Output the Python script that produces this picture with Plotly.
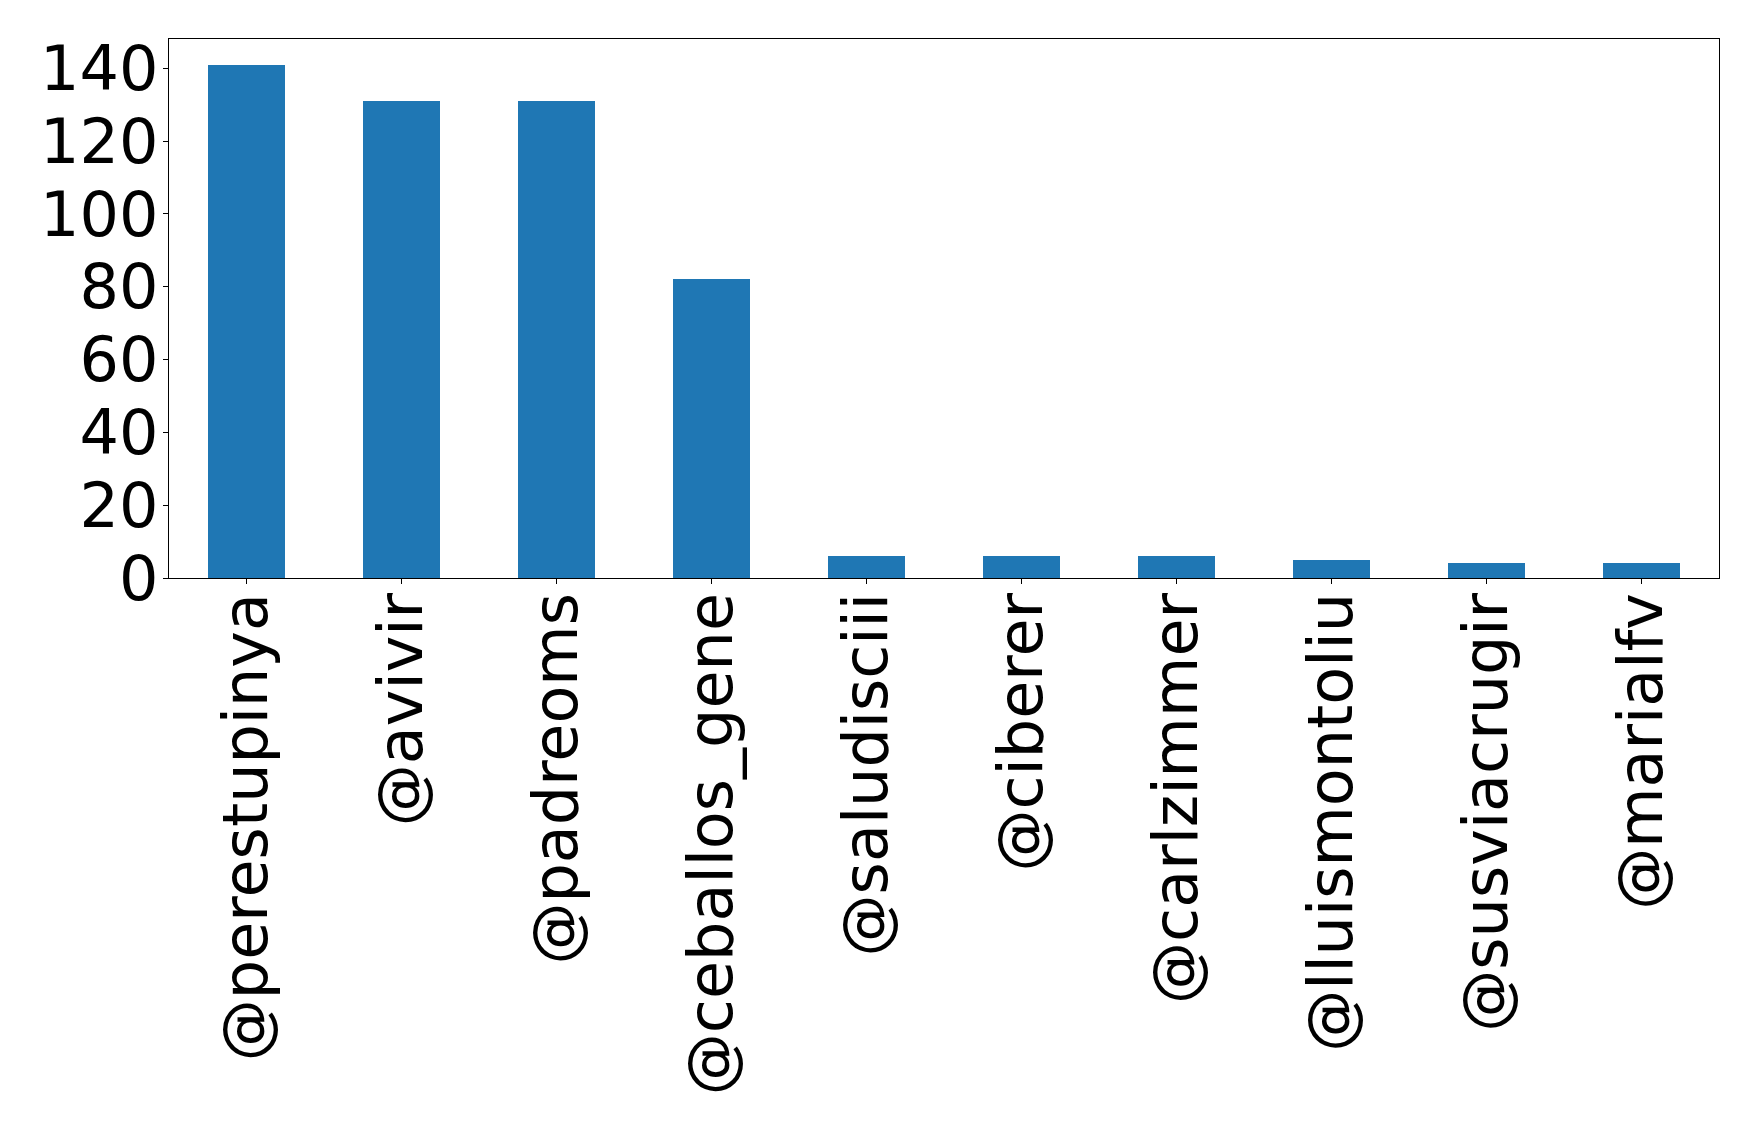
import plotly.graph_objects as go

users = ['@perestupinya', '@avivir', '@padreoms', '@ceballos_gene', '@saludisciii',
         '@ciberer', '@carlzimmer', '@lluismontoliu', '@susviacrugir', '@marialfv']
counts = [141, 131, 131, 82, 6, 6, 6, 5, 4, 4]

fig = go.Figure()

fig.add_trace(go.Bar(
    x=list(range(len(users))),
    y=counts,
    width=0.5,
    marker=dict(color='#1f77b4', line=dict(width=0)),
    hovertemplate='%{text}: %{y}<extra></extra>',
    text=users,
    textposition='none'
))

axis_font = dict(family='DejaVu Sans', size=62, color='black')

# page body has an 8px margin, so the plot box is nudged back by that much
fig.update_layout(
    width=1758,
    height=1134,
    margin=dict(l=161, r=47, t=31, b=564),
    plot_bgcolor='white',
    paper_bgcolor='white',
    showlegend=False,
    bargap=0,
    xaxis=dict(
        range=[-0.5, 9.5],
        tickmode='array',
        tickvals=list(range(len(users))),
        ticktext=users,
        tickangle=-90,
        tickfont=axis_font,
        ticks='outside',
        ticklen=5,
        tickwidth=1,
        tickcolor='black',
        ticklabelstandoff=-16,
        showline=True,
        linecolor='black',
        linewidth=1.3,
        mirror=True,
        showgrid=False,
        zeroline=False,
    ),
    yaxis=dict(
        range=[0, 148.05],
        tickmode='array',
        tickvals=[0, 20, 40, 60, 80, 100, 120, 140],
        tickfont=axis_font,
        ticks='outside',
        ticklen=5,
        tickwidth=1,
        tickcolor='black',
        ticklabelstandoff=-8,
        showline=True,
        linecolor='black',
        linewidth=1.3,
        mirror=True,
        showgrid=False,
        zeroline=False,
    ),
)

fig.write_html("out.html")
